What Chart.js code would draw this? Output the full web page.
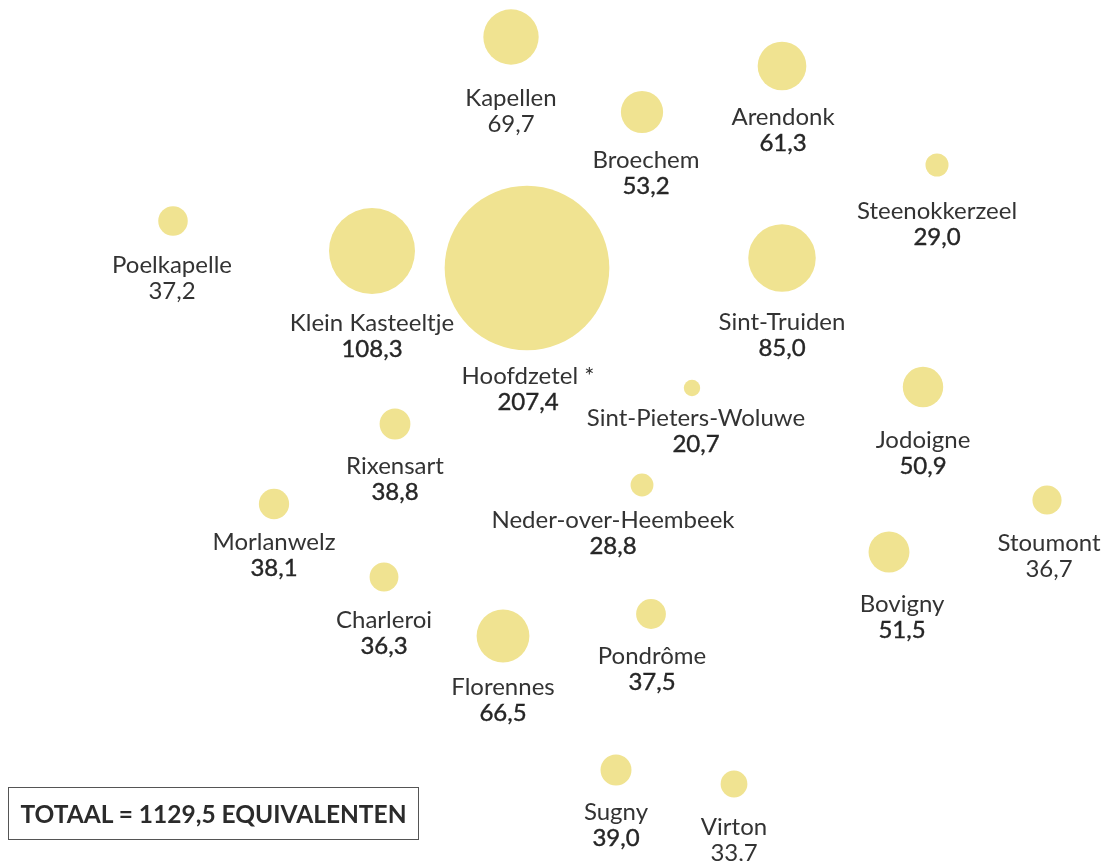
<!DOCTYPE html>
<html>
<head>
<meta charset="utf-8">
<script src="https://cdn.jsdelivr.net/npm/chart.js@4"></script>
<style>
  html, body { margin: 0; padding: 0; background: #ffffff; }
  #wrap { position: relative; width: 1108px; height: 861px; overflow: hidden; }
  #total {
    position: absolute; left: 8px; top: 787px; width: 411px; height: 53px;
    border: 1.5px solid #555; box-sizing: border-box;
    font-family: Lato, "Open Sans", sans-serif; font-weight: 700; font-size: 24.5px;
    color: #2b2b2b; display: flex; align-items: center; justify-content: center;
  }
</style>
</head>
<body>
<div id="wrap">
  <canvas id="c" width="1108" height="861"></canvas>
  <div id="total">TOTAAL = 1129,5 EQUIVALENTEN</div>
</div>
<script>
// ---- data ----
const sites = ["Kapellen","Broechem","Arendonk","Steenokkerzeel","Poelkapelle","Klein Kasteeltje","Hoofdzetel *","Sint-Truiden","Sint-Pieters-Woluwe","Jodoigne","Rixensart","Neder-over-Heembeek","Morlanwelz","Stoumont","Bovigny","Charleroi","Florennes","Pondrôme","Sugny","Virton"];
const equivalents = [69.7, 53.2, 61.3, 29.0, 37.2, 108.3, 207.4, 85.0, 20.7, 50.9, 38.8, 28.8, 38.1, 36.7, 51.5, 36.3, 66.5, 37.5, 39.0, 33.7];
// map position of each site (layout coordinates, x to the right, y downward)
const posX = [511, 642, 782, 937, 173, 372, 527, 782, 692, 923, 395, 642, 274, 1047, 889, 384, 503, 651, 616, 734];
const posY = [37, 112, 66, 165, 221, 251, 268, 258, 388, 387, 424, 485, 504, 500, 552, 577, 636, 614, 770, 784];

// ---- label layout (offsets from bubble centre, px) ----
const labelDx = [0, 4, 1, 0, -1, 0, 1, 0, 4, 0, 0, -29, 0, 2, 13, 0, 0, 1, 0, 0];
const labelDy = [61, 48, 51, 46, 44, 72, 108, 64, 30, 53, 42, 35, 38, 43, 52, 43, 51, 42, 42, 43];
const valueMedium = [false, true, true, true, false, true, true, true, true, true, true, true, true, false, true, true, true, true, true, false];

const fmt = v => v.toFixed(1).replace('.', ',');
const RADIUS_PER_UNIT = 0.397;
const FONT = 'Lato, "Open Sans", sans-serif';

const labelPlugin = {
  id: 'siteLabels',
  afterDatasetsDraw(chart) {
    const ctx = chart.ctx;
    const meta = chart.getDatasetMeta(0);
    ctx.save();
    ctx.textAlign = 'center';
    ctx.textBaseline = 'middle';
    meta.data.forEach((el, i) => {
      const x = el.x + labelDx[i];
      const y = el.y + labelDy[i];
      ctx.fillStyle = '#333333';
      ctx.font = '400 24px ' + FONT;
      ctx.fillText(sites[i], x, y);
      const vt = fmt(equivalents[i]);
      ctx.font = '400 24px ' + FONT;
      if (valueMedium[i]) {
        ctx.fillStyle = '#262626';
        ctx.strokeStyle = '#262626';
        ctx.lineWidth = 0.4;
        ctx.fillText(vt, x, y + 26);
        ctx.strokeText(vt, x, y + 26);
      } else {
        ctx.fillText(vt, x, y + 26);
      }
    });
    ctx.restore();
  }
};

new Chart(document.getElementById('c'), {
  type: 'bubble',
  data: {
    datasets: [{
      data: sites.map((s, i) => ({ x: posX[i], y: posY[i], r: equivalents[i] * RADIUS_PER_UNIT })),
      backgroundColor: '#F0E391',
      borderWidth: 0,
      hoverBorderWidth: 0,
      hoverRadius: 0,
      clip: false
    }]
  },
  options: {
    responsive: false,
    animation: false,
    events: [],
    layout: { padding: 0, autoPadding: false },
    plugins: { legend: { display: false }, tooltip: { enabled: false } },
    scales: {
      x: { type: 'linear', min: 0, max: 1108, display: false },
      y: { type: 'linear', min: 0, max: 861, reverse: true, display: false }
    }
  },
  plugins: [labelPlugin]
});
</script>
</body>
</html>
